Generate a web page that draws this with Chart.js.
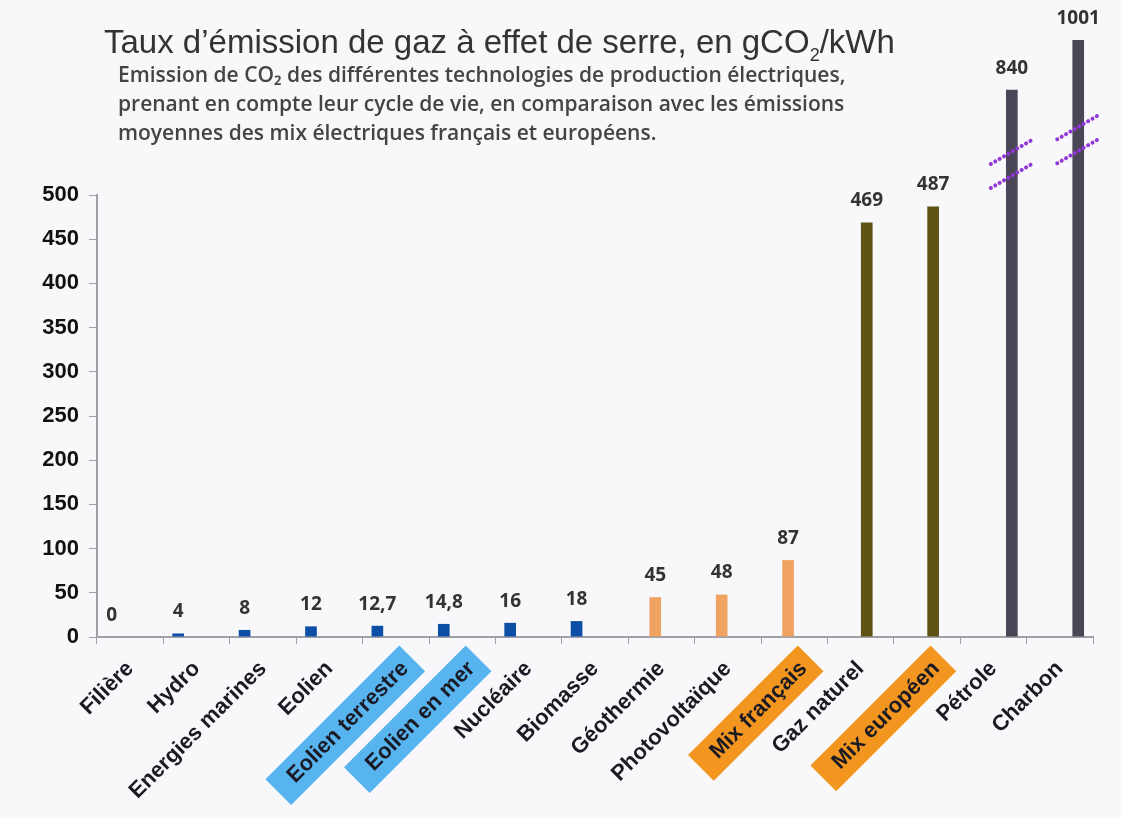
<!DOCTYPE html>
<html lang="fr">
<head>
<meta charset="utf-8">
<title>Taux d’émission de gaz à effet de serre</title>
<script src="https://cdn.jsdelivr.net/npm/chart.js@4.4.1/dist/chart.umd.min.js"></script>
<style>
    html, body { margin: 0; padding: 0; background: #ffffff; }
    #wrap { position: relative; width: 1121px; height: 818px; background: #f8f8fa; overflow: hidden; }
    #title {
        position: absolute; left: 104px; top: 23px;
        font-family: "Liberation Sans", Arial, sans-serif; font-size: 33px; color: #333;
        white-space: nowrap; letter-spacing: 0px;
    }
    #subtitle {
        position: absolute; left: 118px; top: 60px;
        font-family: "Open Sans", sans-serif; font-weight: 600; font-size: 21px;
        line-height: 29px; color: #444; white-space: nowrap; letter-spacing: 0px;
    }
    #chart { position: absolute; left: 0; top: 0; }
</style>
</head>
<body>
<div id="wrap">
    <canvas id="chart" width="1121" height="818"></canvas>
    <div id="title">Taux d’émission de gaz à effet de serre, en gCO<sub style="font-size:18px">2</sub>/kWh</div>
    <div id="subtitle">Emission de CO₂ des différentes technologies de production électriques,<br>prenant en compte leur cycle de vie, en comparaison avec les émissions<br>moyennes des mix électriques français et européens.</div>
</div>
<script>
// Filières et émissions (gCO2/kWh)
const categories = [
    'Filière', 'Hydro', 'Energies marines', 'Eolien', 'Eolien terrestre', 'Eolien en mer',
    'Nucléaire', 'Biomasse', 'Géothermie', 'Photovoltaïque', 'Mix français', 'Gaz naturel',
    'Mix européen', 'Pétrole', 'Charbon'
];
const emissions = [0, 4, 8, 12, 12.7, 14.8, 16, 18, 45, 48, 87, 469, 487, 840, 1001];
// which series (colour group) each filière belongs to
const seriesOf = [0, 0, 0, 0, 0, 0, 0, 0, 1, 1, 1, 2, 2, 3, 3];
const seriesColors = ['#0d4ea6', '#f0a263', '#605214', '#4a4658'];
// labels with a coloured box under them
const highlightColors = { 4: '#58b4ee', 5: '#58b4ee', 10: '#f3961f', 12: '#f3961f' };
const yTicks = [0, 50, 100, 150, 200, 250, 300, 350, 400, 450, 500];

// axis is cut above 500: values above it are compressed
const BREAK_AT = 500;
const BREAK_RATIO = 0.35;
function squash(v) {
    return v > BREAK_AT ? BREAK_AT + (v - BREAK_AT) * BREAK_RATIO : v;
}
function unsquash(v) {
    return v > BREAK_AT ? BREAK_AT + (v - BREAK_AT) / BREAK_RATIO : v;
}

class BrokenLinearScale extends Chart.LinearScale {
    getPixelForValue(value) {
        return super.getPixelForValue(squash(value));
    }
    getValueForPixel(pixel) {
        return unsquash(super.getValueForPixel(pixel));
    }
}
BrokenLinearScale.id = 'brokenLinear';
BrokenLinearScale.defaults = Chart.LinearScale.defaults;
Chart.register(BrokenLinearScale);

function formatFr(v) {
    return String(v).replace('.', ',');
}

// values written above each bar
const valueLabels = {
    id: 'valueLabels',
    afterDatasetsDraw(chart) {
        const ctx = chart.ctx;
        ctx.save();
        ctx.font = 'bold 19px "Open Sans"';
        ctx.fillStyle = '#333';
        ctx.textAlign = 'center';
        ctx.textBaseline = 'bottom';
        chart.data.datasets.forEach((ds, di) => {
            chart.getDatasetMeta(di).data.forEach((bar, i) => {
                if (ds.data[i] === null) return;
                ctx.fillText(formatFr(ds.data[i]), bar.x, bar.y - 12);
            });
        });
        ctx.restore();
    }
};

// dotted double slash on the cut bars
const breakMarks = {
    id: 'breakMarks',
    afterDatasetsDraw(chart) {
        const ctx = chart.ctx;
        const y = chart.scales.y;
        const meta = chart.getDatasetMeta(3);
        const markAt = { 13: 600, 14: 680 };
        ctx.save();
        ctx.strokeStyle = '#9338d8';
        ctx.lineWidth = 4;
        ctx.lineCap = 'round';
        ctx.setLineDash([0.1, 5]);
        Object.keys(markAt).forEach(i => {
            const bar = meta.data[i];
            const cy = y.getPixelForValue(markAt[i]);
            [-12, 12].forEach(off => {
                ctx.beginPath();
                ctx.moveTo(bar.x - 21, cy + off + 12);
                ctx.lineTo(bar.x + 20, cy + off - 12);
                ctx.stroke();
            });
        });
        ctx.restore();
    }
};

const datasets = seriesColors.map((color, s) => ({
    data: emissions.map((v, i) => seriesOf[i] === s ? v : null),
    backgroundColor: color,
    borderWidth: 0,
    categoryPercentage: 0.74,
    barPercentage: 0.95,
    clip: false
}));

new Chart(document.getElementById('chart'), {
    type: 'bar',
    data: { labels: categories, datasets: datasets },
    options: {
        responsive: false,
        animation: false,
        layout: { padding: { top: 195, right: 28, left: 0, bottom: 0 } },
        plugins: {
            legend: { display: false },
            tooltip: { enabled: false }
        },
        scales: {
            x: {
                grid: { drawOnChartArea: false, tickLength: 7, color: '#a0a0a8', offset: true },
                border: { color: '#a0a0a8', width: 2 },
                ticks: {
                    autoSkip: false,
                    maxRotation: 45,
                    minRotation: 45,
                    padding: 12,
                    color: '#1a1a24',
                    font: { family: '"Liberation Sans", Arial', size: 22, weight: 'bold' },
                    showLabelBackdrop: c => highlightColors[c.index] !== undefined,
                    backdropColor: c => highlightColors[c.index] || 'rgba(0,0,0,0)',
                    backdropPadding: { top: 5, bottom: 5, left: 18, right: 10 }
                },
                afterFit: scale => { scale.height = 181; }
            },
            y: {
                type: 'brokenLinear',
                min: 0,
                max: 500,
                grid: { drawOnChartArea: false, tickLength: 8, color: '#a0a0a8' },
                border: { color: '#a0a0a8', width: 2 },
                afterBuildTicks: scale => { scale.ticks = yTicks.map(v => ({ value: v })); },
                ticks: {
                    padding: 10,
                    color: '#111',
                    font: { family: '"Liberation Sans", Arial', size: 22, weight: 'bold' }
                },
                afterFit: scale => { scale.width = 97; }
            }
        }
    },
    plugins: [valueLabels, breakMarks]
});
</script>
</body>
</html>
